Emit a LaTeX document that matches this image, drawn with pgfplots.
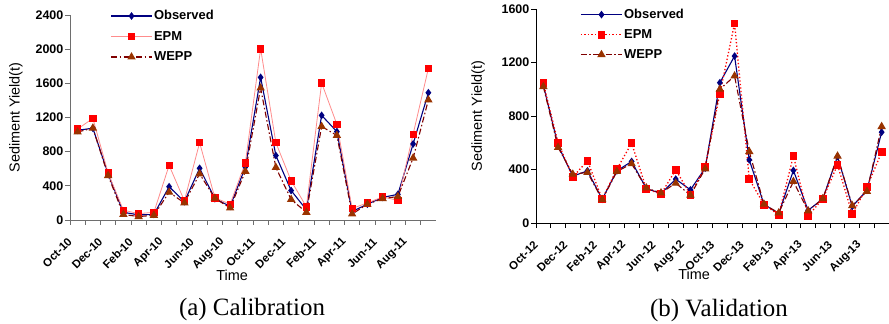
\documentclass[border=0pt]{standalone}
\usepackage{fontspec}
\setmainfont{Liberation Sans}
\newfontfamily\timesf{Liberation Serif}
\usepackage{pgfplots}
\usepackage{pgfplotstable}
\pgfplotsset{compat=1.18}
\definecolor{navy}{RGB}{0,0,128}
\definecolor{epmred}{RGB}{255,0,0}
\definecolor{epmlight}{RGB}{255,140,140}
\definecolor{wline}{RGB}{128,0,0}
\definecolor{wfill}{RGB}{153,51,0}
\definecolor{axgray}{RGB}{110,110,110}

\pgfplotstableread{
x obs epm wepp
1 1050 1065 1030
2 1075 1190 1075
3 540 550 520
4 90 115 65
5 60 75 40
6 65 90 55
7 390 640 325
8 215 225 200
9 605 905 540
10 250 260 255
11 160 185 140
12 620 670 570
13 1670 2005 1545
14 755 905 615
15 345 460 240
16 120 155 90
17 1225 1605 1095
18 1035 1120 990
19 100 135 70
20 185 200 185
21 265 270 250
22 300 230 275
23 890 1005 725
24 1490 1775 1405
}\calib

\pgfplotstableread{
x obs epm wepp
1 1030 1045 1020
2 580 600 565
3 350 343 365
4 390 465 378
5 178 179 175
6 390 403 385
7 460 597 443
8 258 256 262
9 220 216 225
10 328 398 298
11 248 211 208
12 410 422 405
13 1049 965 1000
14 1248 1492 1099
15 472 328 534
16 140 137 140
17 70 62 75
18 393 502 310
19 95 54 90
20 180 181 182
21 497 435 500
22 124 67 130
23 245 269 236
24 679 530 721
}\valid

\pgfplotsset{
  common/.style={
    scale only axis,
    anchor=south west,
    clip=false,
    axis x line*=bottom,
    axis y line*=left,
    axis line style={-},
    tick align=outside,
    major tick length=5bp,
    minor tick length=5bp,
    xmin=0.5, xmax=24.5,
    xtick={0.5,2.5,...,22.5},
    minor xtick={1.5,3.5,...,24.5},
    ymin=0,
    /pgf/number format/assume math mode=true,
    /pgf/number format/1000 sep={},
    yticklabel style={font=\fontsize{12.5}{14}\selectfont\bfseries, inner sep=1.5bp},
    xticklabel style={font=\fontsize{11.5}{13}\selectfont\bfseries, rotate=45, anchor=east, inner sep=0pt},
    xticklabel shift=15bp,
    label style={font=\fontsize{14.5}{16}\selectfont},
    xlabel={Time},
    ylabel={Sediment Yield(t)},
    legend cell align=left,
    legend style={draw=none, fill=none, font=\fontsize{13}{15}\selectfont\bfseries,
      anchor=north west, inner sep=0pt, nodes={inner sep=1.5bp}},
    legend image code/.code={\draw[mark repeat=2,mark phase=2] plot coordinates {(0bp,0bp)(20.5bp,0bp)(41bp,0bp)};},
  },
  obsst/.style={color=navy, line width=1.1bp, mark=diamond*, mark size=3bp, mark options={solid, fill=navy, draw=navy}},
  wst/.style={color=wline, line width=1.1bp, dash pattern=on 6bp off 2.5bp on 1.5bp off 2.5bp, mark=triangle*, mark size=3.8bp, mark options={solid, fill=wfill, draw=wfill}},
}

\begin{document}
\begin{tikzpicture}
\path[use as bounding box] (0,0) rectangle (889bp,324bp);

\begin{axis}[common,
  at={(70bp,104bp)}, width=366bp, height=205bp,
  ymax=2400, ytick={0,400,...,2400},
  axis line style={-, axgray, line width=1bp},
  every tick/.style={axgray, line width=0.8bp},
  xticklabels={Oct-10,Dec-10,Feb-10,Apr-10,Jun-10,Aug-10,Oct-11,Dec-11,Feb-11,Apr-11,Jun-11,Aug-11},
  xlabel style={at={(axis description cs:0.443,-0.268)}, anchor=center},
  ylabel style={at={(axis description cs:-0.148,0.5)}, anchor=center},
  legend style={at={(axis description cs:0.11,1.03)}, row sep=7bp},
]
\addplot[obsst] table[x=x,y=obs] {\calib};
\addlegendentry{Observed}
\addplot[color=epmlight, line width=0.8bp, mark=square*, mark size=3.2bp, mark options={fill=epmred, draw=epmred}] table[x=x,y=epm] {\calib};
\addlegendentry{EPM}
\addplot[wst] table[x=x,y=wepp] {\calib};
\addlegendentry{WEPP}
\end{axis}

\begin{axis}[common,
  at={(536bp,101bp)}, width=353bp, height=214bp,
  ymax=1600, ytick={0,400,...,1600},
  axis line style={-, black, line width=1bp},
  every tick/.style={black, line width=0.8bp},
  xticklabels={Oct-12,Dec-12,Feb-12,Apr-12,Jun-12,Aug-12,Oct-13,Dec-13,Feb-13,Apr-13,Jun-13,Aug-13},
  xlabel style={at={(axis description cs:0.448,-0.238)}, anchor=center},
  ylabel style={at={(axis description cs:-0.164,0.5)}, anchor=center},
  legend style={at={(axis description cs:0.125,1.007)}, row sep=6.5bp},
]
\addplot[obsst] table[x=x,y=obs] {\valid};
\addlegendentry{Observed}
\addplot[color=epmred, line width=1.3bp, dash pattern=on 1.3bp off 2.2bp, mark=square*, mark size=3.2bp, mark options={solid, fill=epmred, draw=epmred}] table[x=x,y=epm] {\valid};
\addlegendentry{EPM}
\addplot[wst] table[x=x,y=wepp] {\valid};
\addlegendentry{WEPP}
\end{axis}

\node[font=\timesf\fontsize{25}{28}\selectfont, anchor=base] at (252bp,9bp) {(a) Calibration};
\node[font=\timesf\fontsize{25}{28}\selectfont, anchor=base] at (719bp,8bp) {(b) Validation};
\end{tikzpicture}
\end{document}
